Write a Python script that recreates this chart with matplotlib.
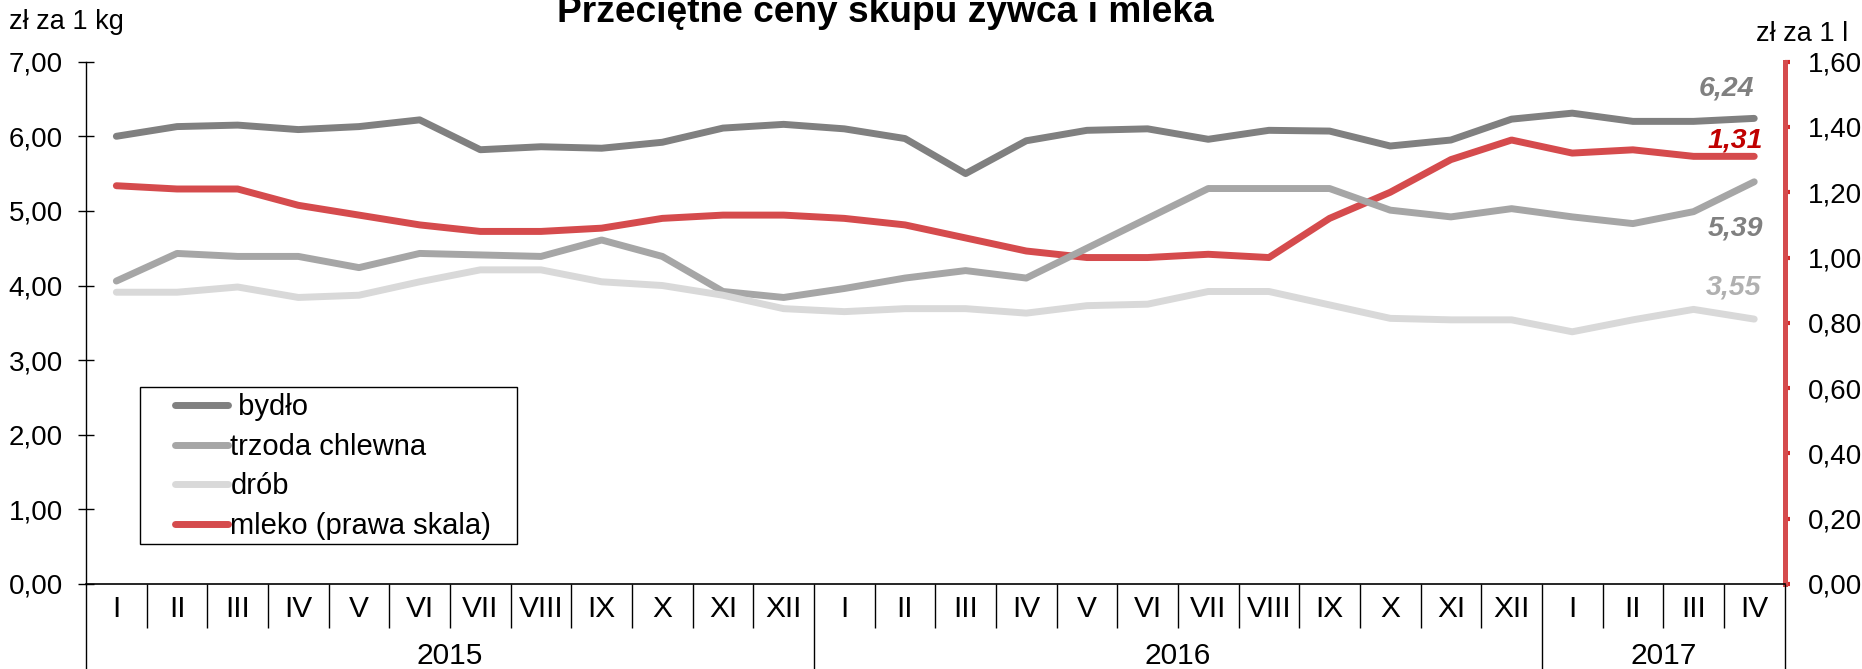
import numpy as np
import matplotlib
matplotlib.use("Agg")
import matplotlib.pyplot as plt
from matplotlib import font_manager
from matplotlib.ticker import FuncFormatter, FixedLocator
from matplotlib.legend_handler import HandlerLine2D
from matplotlib.patches import Rectangle
from matplotlib.transforms import blended_transform_factory, offset_copy

plt.rcParams['font.family'] = ['Liberation Sans', 'DejaVu Sans']
_names = {f.name for f in font_manager.fontManager.ttflist}
HAS_NARROW = 'Liberation Sans Narrow' in _names
narrow_family = ['Liberation Sans Narrow', 'Liberation Sans'] if HAS_NARROW else ['Liberation Sans']
tick_size = 22 if HAS_NARROW else 20
cat_size = 24.5 if HAS_NARROW else 21.5

months = ["I", "II", "III", "IV", "V", "VI", "VII", "VIII", "IX", "X", "XI", "XII",
          "I", "II", "III", "IV", "V", "VI", "VII", "VIII", "IX", "X", "XI", "XII",
          "I", "II", "III", "IV"]
years = ["2015", "2016", "2017"]
months_per_year = [12, 12, 4]

bydlo = [6.00, 6.13, 6.15, 6.09, 6.13, 6.22, 5.82, 5.86, 5.84, 5.92, 6.11, 6.16,
         6.10, 5.97, 5.50, 5.94, 6.08, 6.10, 5.96, 6.08, 6.07, 5.87, 5.95, 6.23,
         6.31, 6.20, 6.20, 6.24]
trzoda = [4.06, 4.43, 4.39, 4.39, 4.24, 4.43, 4.41, 4.39, 4.61, 4.39, 3.92, 3.84,
          3.96, 4.10, 4.20, 4.10, 4.50, 4.90, 5.30, 5.30, 5.30, 5.01, 4.92, 5.03,
          4.92, 4.83, 4.99, 5.39]
drob = [3.91, 3.91, 3.98, 3.84, 3.87, 4.05, 4.21, 4.21, 4.05, 4.00, 3.87, 3.69,
        3.65, 3.69, 3.69, 3.63, 3.73, 3.75, 3.92, 3.92, 3.74, 3.56, 3.54, 3.54,
        3.38, 3.54, 3.68, 3.55]
mleko = [1.22, 1.21, 1.21, 1.16, 1.13, 1.10, 1.08, 1.08, 1.09, 1.12, 1.13, 1.13,
         1.12, 1.10, 1.06, 1.02, 1.00, 1.00, 1.01, 1.00, 1.12, 1.20, 1.30, 1.36,
         1.32, 1.33, 1.31, 1.31]

labels = [" bydło", "trzoda chlewna", "drób", "mleko (prawa skala)"]
title = "Przeciętne ceny skupu żywca i mleka"
left_unit = "zł za 1 kg"
right_unit = "zł za 1 l"

c_bydlo = "#808080"
c_trzoda = "#a6a6a6"
c_drob = "#d9d9d9"
c_mleko = "#d54b4d"

fig = plt.figure(figsize=(18.62, 6.69), dpi=100)
ax = fig.add_axes([0.0462, 0.1271, 0.9122, 0.7807])
ax2 = ax.twinx()

x = np.arange(len(months))
lw = 5
kw = dict(lw=lw, solid_capstyle='round', solid_joinstyle='round')
l1, = ax.plot(x, bydlo, color=c_bydlo, **kw)
l2, = ax.plot(x, trzoda, color=c_trzoda, **kw)
l3, = ax.plot(x, drob, color=c_drob, **kw)
l4, = ax2.plot(x, mleko, color=c_mleko, **kw)
ax.set_zorder(ax2.get_zorder() + 1)
ax.patch.set_visible(False)

ax.set_xlim(-0.5, len(months) - 0.5)
ax.set_ylim(0, 7)
ax2.set_ylim(0, 1.6)

fmt = FuncFormatter(lambda v, p: f"{v:.2f}".replace('.', ','))
ax.set_yticks(np.arange(0, 7.01, 1))
ax.yaxis.set_major_formatter(fmt)
ax2.set_yticks(np.arange(0, 1.601, 0.2))
ax2.yaxis.set_major_formatter(fmt)

ax.tick_params(axis='y', direction='inout', length=12, width=1, labelsize=tick_size, pad=10.5)
ax2.tick_params(axis='y', direction='out', length=3.6, width=3, color='#d42a2a',
                labelsize=tick_size, pad=13)
for lab in ax.get_yticklabels() + ax2.get_yticklabels():
    lab.set_family(narrow_family)

for s in ['top', 'right']:
    ax.spines[s].set_visible(False)
ax2.spines['top'].set_visible(False)
ax2.spines['left'].set_visible(False)
ax2.spines['bottom'].set_visible(False)
ax2.spines['right'].set_color(c_mleko)
ax2.spines['right'].set_linewidth(3.6)
ax.spines['left'].set_linewidth(1)
ax.spines['bottom'].set_linewidth(1.2)

# category axis: separators and labels
bounds = np.arange(len(months) + 1) - 0.5
ax.xaxis.set_minor_locator(FixedLocator(bounds))
ax.tick_params(axis='x', which='minor', direction='out', length=31.7, width=1, color='black')
year_edges = np.concatenate([[0], np.cumsum(months_per_year)]) - 0.5
ax.xaxis.set_major_locator(FixedLocator(year_edges))
ax.tick_params(axis='x', which='major', direction='out', length=70, width=1, color='black')
ax.set_xticklabels([])

tr = blended_transform_factory(ax.transData, ax.transAxes)
tr_m = offset_copy(tr, fig=fig, y=-25, units='dots')
for i, m in enumerate(months):
    ax.text(i, 0, m, transform=tr_m, ha='center', va='center', fontsize=cat_size,
            family=narrow_family)
tr_y = offset_copy(tr, fig=fig, y=-72, units='dots')
for k, yname in enumerate(years):
    c = (year_edges[k] + year_edges[k + 1]) / 2
    ax.text(c, 0, yname, transform=tr_y, ha='center', va='center', fontsize=cat_size,
            family=narrow_family)

# titles
fig.text(0.4753, 1 - 22 / 669, title, ha='center', va='baseline', fontsize=26.7,
         fontweight='bold')
fig.text(0.005, 1 - 29 / 669, left_unit, ha='left', va='baseline', fontsize=19.5)
fig.text(1755.7 / 1862, 1 - 40.7 / 669, right_unit, ha='left', va='baseline', fontsize=19.5)

# end-value annotations
last = len(months) - 1
def note(axis, val, dx, dy, color):
    axis.annotate(f"{val:.2f}".replace('.', ','), (last, val), xytext=(dx, dy),
                  textcoords='offset pixels', ha='right', va='center', fontsize=20.5,
                  fontweight='bold', fontstyle='italic', color=color)
note(ax, bydlo[-1], 0, 30, "#808080")
note(ax2, mleko[-1], 9, 16, "#c00000")
note(ax, trzoda[-1], 9, -47, "#808080")
note(ax, drob[-1], 7, 32, "#b0b0b0")


class LeadHandler(HandlerLine2D):
    def get_xdata(self, legend, xdescent, ydescent, width, height, fontsize):
        x0 = -xdescent + width * 0.36
        x1 = width - xdescent
        return np.array([x0, x1]), np.array([x0, x1])

# legend frame (layout box) and legend entries
ax.add_patch(Rectangle((0.0318, 0.076), 0.2539 - 0.0318, 0.3766 - 0.076,
                       transform=ax.transAxes, facecolor='white', edgecolor='black',
                       lw=1, zorder=4.5, clip_on=False))
h = LeadHandler()
leg = ax.legend([l1, l2, l3, l4], labels, loc='upper left',
                bbox_to_anchor=(0.0318, 0.3766), fontsize=21,
                frameon=False, borderpad=0.2, labelspacing=0.4, handlelength=2.8,
                handletextpad=0.1, borderaxespad=0,
                handler_map={l1: h, l2: h, l3: h, l4: h})
for ln in leg.get_lines():
    ln.set_linewidth(5)
    ln.set_solid_capstyle('round')

fig.savefig("out.png", dpi=100)
